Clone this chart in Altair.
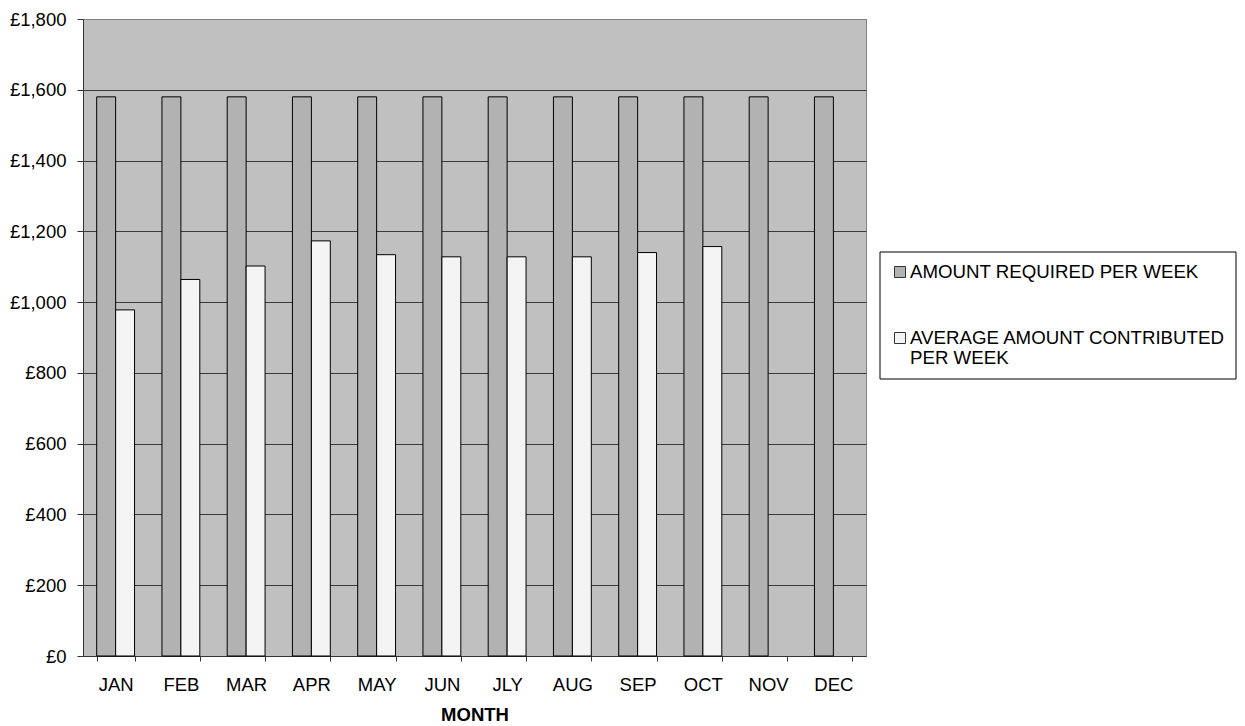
import altair as alt
import pandas as pd

months = ["JAN", "FEB", "MAR", "APR", "MAY", "JUN", "JLY", "AUG", "SEP", "OCT", "NOV", "DEC"]
series = ["AMOUNT REQUIRED PER WEEK", "AVERAGE AMOUNT CONTRIBUTED PER WEEK"]
legend_lines = [["AMOUNT REQUIRED PER WEEK"], ["AVERAGE AMOUNT CONTRIBUTED", "PER WEEK"]]
required = [1580, 1580, 1580, 1580, 1580, 1580, 1580, 1580, 1580, 1580, 1580, 1580]
contributed = [978, 1064, 1102, 1173, 1134, 1128, 1128, 1128, 1140, 1157, None, None]
y_ticks = [0, 200, 400, 600, 800, 1000, 1200, 1400, 1600, 1800]
colors = ["#B2B2B2", "#F4F4F4"]

rows = []
for m, r, c in zip(months, required, contributed):
    rows.append({"month": m, "series": series[0], "value": r})
    if c is not None:
        rows.append({"month": m, "series": series[1], "value": c})
df = pd.DataFrame(rows)

FONT = "Liberation Sans"
FS = 18.5
W, H = 783, 637

bars = alt.Chart(df).mark_bar(stroke="#000000", strokeWidth=1).encode(
    x=alt.X(
        "month:N",
        sort=months,
        scale=alt.Scale(paddingInner=0.42, paddingOuter=0.21),
        axis=alt.Axis(
            title="MONTH", labelAngle=0, tickBand="extent", tickSize=5,
            labelPadding=14, titlePadding=12, grid=False,
            domainColor="#333333", tickColor="#333333",
            labelColor="#000000", titleColor="#000000",
            labelFontSize=FS, titleFontSize=FS, titleFontWeight="bold",
            labelFont=FONT, titleFont=FONT,
        ),
    ),
    xOffset=alt.XOffset("series:N", sort=series,
                        scale=alt.Scale(paddingInner=0, paddingOuter=0)),
    y=alt.Y(
        "value:Q",
        scale=alt.Scale(domain=[0, 1800], nice=False),
        axis=alt.Axis(
            title=None, values=y_ticks,
            labelExpr="'£' + format(datum.value, ',')",
            tickSize=6, labelPadding=11, grid=True,
            gridColor={"condition": {"test": "datum.value === 1800", "value": "#808080"},
                       "value": "#3a3a3a"},
            gridWidth=1.2,
            domainColor="#333333", tickColor="#333333",
            labelColor="#000000", labelFontSize=FS, labelFont=FONT,
        ),
    ),
    fill=alt.Fill("series:N", scale=alt.Scale(domain=series, range=colors), legend=None),
)

one = pd.DataFrame({"k": [0]})

box = alt.Chart(one).mark_rect(fill="white", stroke="#000000", strokeWidth=1).encode(
    x=alt.value(797), x2=alt.value(1153), y=alt.value(233), y2=alt.value(360)
)

layers = [bars, box]
sym_y = [253, 319]
for i in range(2):
    layers.append(
        alt.Chart(one).mark_square(size=121, fill=colors[i], stroke="#333333",
                                   strokeWidth=1, opacity=1).encode(
            x=alt.value(817), y=alt.value(sym_y[i])
        )
    )
    for j, line in enumerate(legend_lines[i]):
        layers.append(
            alt.Chart(one).mark_text(align="left", baseline="middle", fontSize=18.7,
                                     font=FONT, color="#000000").encode(
                x=alt.value(827), y=alt.value(sym_y[i] + j * 19.5), text=alt.value(line)
            )
        )

chart = alt.layer(*layers).properties(
    width=W, height=H,
    autosize=alt.AutoSizeParams(type="none"),
    padding={"left": 75, "top": 11, "right": 371, "bottom": 70},
    background="white",
).configure_view(fill="#C0C0C0", stroke="#808080", strokeWidth=1)

chart.save("out.html", embed_options={"renderer": "svg", "actions": False})
